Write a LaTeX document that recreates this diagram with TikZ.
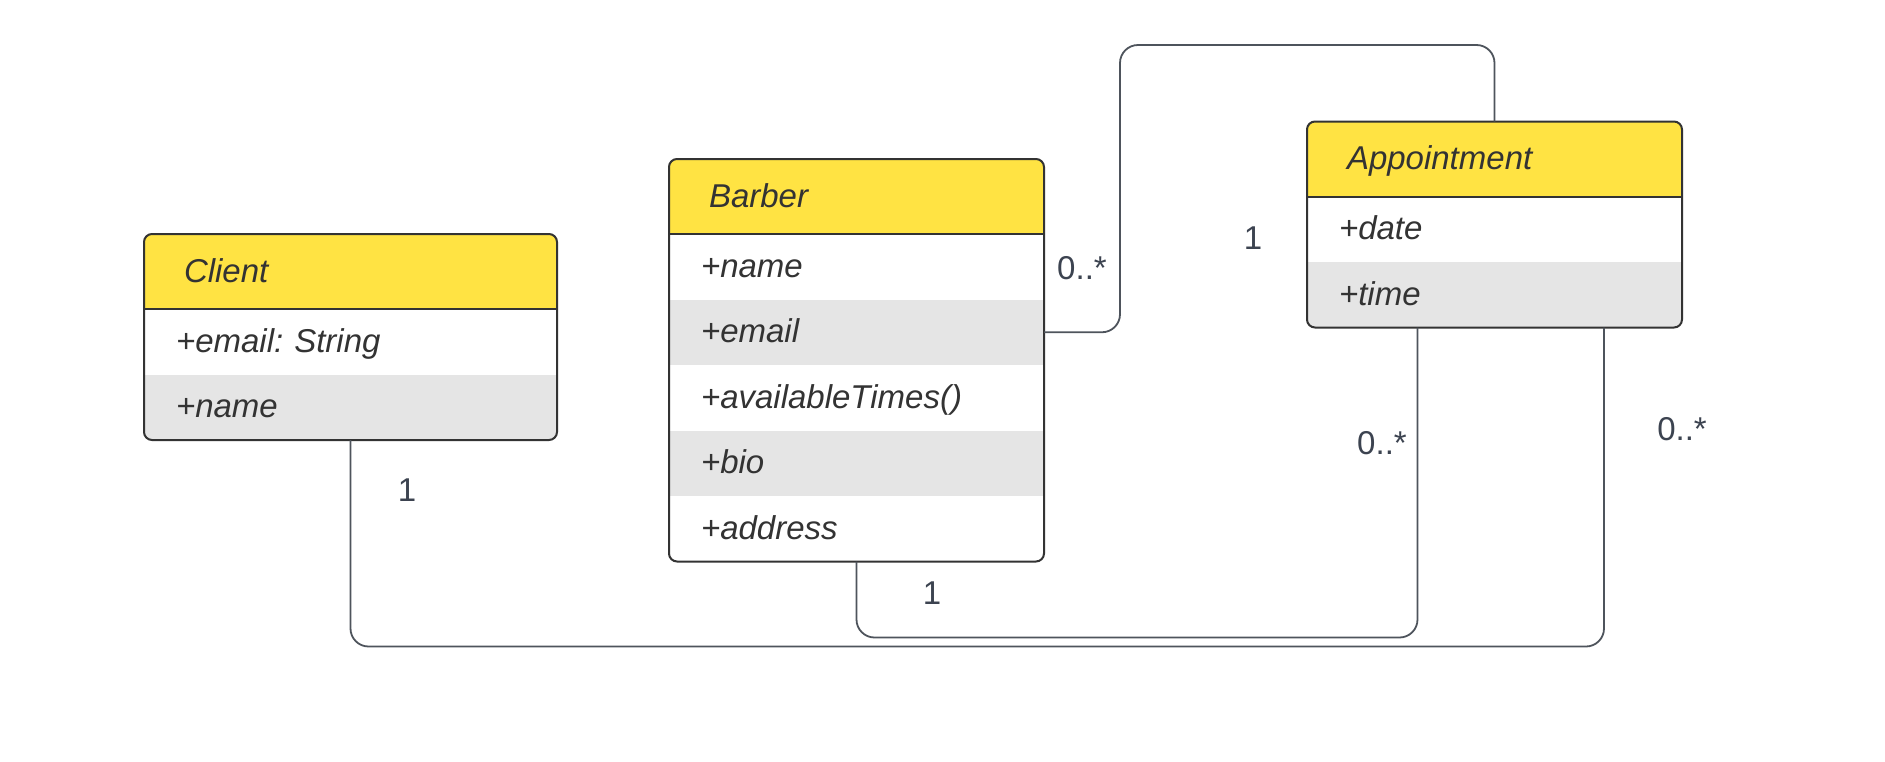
\documentclass[tikz,border=0pt]{standalone}
\usepackage{fontspec}
\setmainfont{Liberation Sans}
\frenchspacing
\usetikzlibrary{calc}
\definecolor{hdryellow}{HTML}{FFE343}
\definecolor{rowgray}{HTML}{E5E5E5}
\definecolor{boxtext}{HTML}{333333}
\definecolor{border}{HTML}{333333}
\definecolor{conncol}{HTML}{4E545C}
\definecolor{labcol}{HTML}{3C4350}
\tikzset{
  cell/.style={rectangle, draw=none, outer sep=0pt, inner ysep=0pt, anchor=north west,
    minimum height=#1, align=left, text=boxtext, text height=26pt, text depth=5pt,
    font=\fontsize{33}{40}\selectfont\itshape},
  hdr/.style={cell=75pt, fill=hdryellow, inner xsep=40pt},
  rowW/.style={cell=65.5pt, fill=white, inner xsep=32pt},
  rowG/.style={cell=65.5pt, fill=rowgray, inner xsep=32pt},
  boxline/.style={draw=border, line width=2pt, rounded corners=8pt},
  divline/.style={draw=border, line width=2pt},
  conn/.style={draw=conncol, line width=1.8pt, rounded corners=18pt},
  mult/.style={text=labcol, font=\fontsize{33}{40}\selectfont, inner sep=0pt}
}
\begin{document}
\begin{tikzpicture}[x=1pt,y=-1pt]
\useasboundingbox[fill=white] (0,0) rectangle (1885,761);

% ---------- Client ----------
\begin{scope}
\clip[rounded corners=8pt] (144,234) rectangle (557,440);
\node[hdr, minimum width=413pt, text width=333pt] (clientH) at (144,234) {Client};
\node[rowW, minimum width=413pt, text width=349pt] (clientR1) at (clientH.south west) {+email: String};
\node[rowG, minimum width=413pt, text width=349pt] (clientR2) at (clientR1.south west) {+name};
\end{scope}
\draw[boxline] (clientH.north west) rectangle (clientR2.south east);
\draw[divline] (clientH.south west) -- (clientH.south east);

% ---------- Barber ----------
\begin{scope}
\clip[rounded corners=8pt] (669,159) rectangle (1044,561.5);
\node[hdr, minimum width=375pt, text width=295pt] (barberH) at (669,159) {Barber};
\node[rowW, minimum width=375pt, text width=311pt] (barberR1) at (barberH.south west) {+name};
\node[rowG, minimum width=375pt, text width=311pt] (barberR2) at (barberR1.south west) {+email};
\node[rowW, minimum width=375pt, text width=311pt] (barberR3) at (barberR2.south west) {+availableTimes()};
\node[rowG, minimum width=375pt, text width=311pt] (barberR4) at (barberR3.south west) {+bio};
\node[rowW, minimum width=375pt, text width=311pt] (barberR5) at (barberR4.south west) {+address};
\end{scope}
\draw[boxline] (barberH.north west) rectangle (barberR5.south east);
\draw[divline] (barberH.south west) -- (barberH.south east);

% ---------- Appointment ----------
\begin{scope}
\clip[rounded corners=8pt] (1307,121.5) rectangle (1682,327.5);
\node[hdr, minimum width=375pt, text width=295pt] (apptH) at (1307,121.5) {Appointment};
\node[rowW, minimum width=375pt, text width=311pt] (apptR1) at (apptH.south west) {+date};
\node[rowG, minimum width=375pt, text width=311pt] (apptR2) at (apptR1.south west) {+time};
\end{scope}
\draw[boxline] (apptH.north west) rectangle (apptR2.south east);
\draw[divline] (apptH.south west) -- (apptH.south east);

% ---------- Connectors ----------
\coordinate (bendA) at (1120,45);
\coordinate (bendB) at (1417.5,637.5);
\coordinate (bendC) at (1604,646.5);
\coordinate (apptB1) at ([xshift=110.5pt]apptR2.south west);
\coordinate (apptB2) at ([xshift=297pt]apptR2.south west);

\draw[conn] (barberR2.east) -| (bendA) -| (apptH.north);
\draw[conn] (barberR5.south) |- (bendB) -- (apptB1);
\draw[conn] (clientR2.south) |- (bendC) -- (apptB2);

% ---------- Multiplicities ----------
\node[mult] (m1) at (1082,268) {0..*};
\node[mult] (m2) at (1253,238.5) {1};
\node[mult] (m3) at (407,490) {1};
\node[mult] (m4) at (932,593) {1};
\node[mult] (m5) at (1382,443) {0..*};
\node[mult] (m6) at (1682,429) {0..*};
\end{tikzpicture}
\end{document}
